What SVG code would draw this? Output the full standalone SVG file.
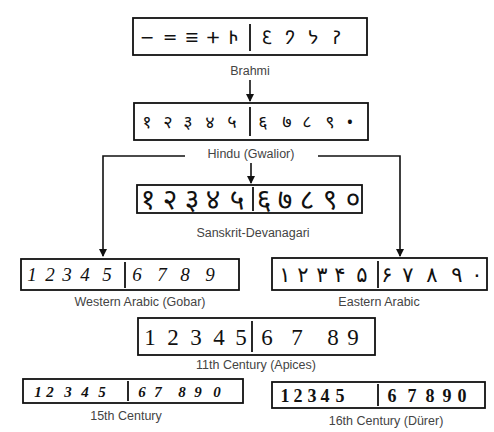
<svg xmlns="http://www.w3.org/2000/svg" width="494" height="432" viewBox="0 0 494 432">
<style>
.box{fill:#fff;stroke:#111;stroke-width:1.8}
.div{stroke:#111;stroke-width:1.8}
.lbl{font-family:"Liberation Sans",Arial,sans-serif;font-size:12.5px;fill:#444;text-anchor:middle}
.num{fill:#111;text-anchor:middle}
.brahmi{font-family:"Noto Sans Brahmi","Noto Sans",sans-serif;font-size:19px}
.deva{font-family:"Noto Sans Devanagari","Noto Sans",sans-serif}
.arab{font-family:"DejaVu Sans","Noto Sans",sans-serif;font-size:21px}
.lat{font-family:"Liberation Serif","Times New Roman",serif}
.conn{fill:none;stroke:#111;stroke-width:1.6}
</style>
<defs>
<marker id="ah" markerWidth="8" markerHeight="9" refX="7" refY="4.5" orient="auto" markerUnits="userSpaceOnUse">
<path d="M0,0.5 L8,4.5 L0,8.5 Z" fill="#111"/>
</marker>
</defs>
<rect width="494" height="432" fill="#fff"/>

<g id="connectors">
<path class="conn" d="M250,80 V101" marker-end="url(#ah)"/>
<path class="conn" d="M185,156 H103 V256" marker-end="url(#ah)"/>
<path class="conn" d="M318,156 H400 V256" marker-end="url(#ah)"/>
<path class="conn" d="M251,163 V183" marker-end="url(#ah)"/>
</g>

<g id="brahmi">
<rect class="box" x="133" y="18" width="234" height="37"/>
<line class="div" x1="250" y1="24" x2="250" y2="51"/>
<text class="num brahmi" y="44"><tspan x="147">𑁒</tspan><tspan x="170">𑁓</tspan><tspan x="192">𑁔</tspan><tspan x="213">𑁕</tspan><tspan x="233">𑁖</tspan><tspan x="267">𑁗</tspan><tspan x="290">𑁘</tspan><tspan x="313">𑁙</tspan><tspan x="337">𑁚</tspan></text>
<text class="lbl" x="250" y="75">Brahmi</text>
</g>

<g id="hindu">
<rect class="box" x="134" y="103" width="234" height="37"/>
<line class="div" x1="250" y1="107" x2="250" y2="136"/>
<text class="num deva" font-size="18" y="128"><tspan x="147">१</tspan><tspan x="168">२</tspan><tspan x="188">३</tspan><tspan x="210">४</tspan><tspan x="232">५</tspan><tspan x="263">६</tspan><tspan x="287">७</tspan><tspan x="307">८</tspan><tspan x="330">९</tspan><tspan x="350">•</tspan></text>
<text class="lbl" x="251" y="158">Hindu (Gwalior)</text>
</g>

<g id="sanskrit">
<rect class="box" x="137" y="185" width="225" height="28"/>
<line class="div" x1="253" y1="187" x2="253" y2="211"/>
<text class="num deva" font-size="28" y="209"><tspan x="148">१</tspan><tspan x="170">२</tspan><tspan x="192">३</tspan><tspan x="213">४</tspan><tspan x="237">५</tspan><tspan x="264">६</tspan><tspan x="285">७</tspan><tspan x="307">८</tspan><tspan x="330">९</tspan><tspan x="353">०</tspan></text>
<text class="lbl" x="253" y="237">Sanskrit-Devanagari</text>
</g>

<g id="western-arabic">
<rect class="box" x="21" y="259" width="218" height="31"/>
<line class="div" x1="125" y1="262" x2="125" y2="288"/>
<text class="num lat" font-size="19" font-style="italic" y="281"><tspan x="32">1</tspan><tspan x="50">2</tspan><tspan x="67">3</tspan><tspan x="85">4</tspan><tspan x="107">5</tspan><tspan x="137">6</tspan><tspan x="162">7</tspan><tspan x="185">8</tspan><tspan x="210">9</tspan></text>
<text class="lbl" x="140" y="306">Western Arabic (Gobar)</text>
</g>

<g id="eastern-arabic">
<rect class="box" x="272" y="258" width="215" height="32"/>
<line class="div" x1="378" y1="261" x2="378" y2="288"/>
<text class="num arab" y="282"><tspan x="285">۱</tspan><tspan x="303">۲</tspan><tspan x="322">۳</tspan><tspan x="340">۴</tspan><tspan x="362">۵</tspan><tspan x="387">۶</tspan><tspan x="408">۷</tspan><tspan x="432">۸</tspan><tspan x="457">۹</tspan><tspan x="477">۰</tspan></text>
<text class="lbl" x="379" y="306">Eastern Arabic</text>
</g>

<g id="apices">
<rect class="box" x="138" y="318" width="237" height="37"/>
<line class="div" x1="252" y1="321" x2="252" y2="352"/>
<text class="num lat" font-size="23" y="345"><tspan x="150">1</tspan><tspan x="173">2</tspan><tspan x="196">3</tspan><tspan x="219">4</tspan><tspan x="241">5</tspan><tspan x="267">6</tspan><tspan x="297">7</tspan><tspan x="333">8</tspan><tspan x="353">9</tspan></text>
<text class="lbl" x="256" y="369">11th Century (Apices)</text>
</g>

<g id="century-15">
<rect class="box" x="23" y="379" width="220" height="24"/>
<line class="div" x1="128" y1="381" x2="128" y2="401"/>
<text class="num lat" font-size="15" font-style="italic" font-weight="bold" y="397"><tspan x="38">1</tspan><tspan x="50">2</tspan><tspan x="68">3</tspan><tspan x="85">4</tspan><tspan x="102">5</tspan><tspan x="142">6</tspan><tspan x="158">7</tspan><tspan x="182">8</tspan><tspan x="198">9</tspan><tspan x="217">0</tspan></text>
<text class="lbl" x="126" y="420">15th Century</text>
</g>

<g id="century-16">
<rect class="box" x="272" y="382" width="213" height="26"/>
<line class="div" x1="378" y1="384" x2="378" y2="406"/>
<text class="num lat" font-size="18" font-weight="bold" y="402"><tspan x="285">1</tspan><tspan x="298">2</tspan><tspan x="312">3</tspan><tspan x="325">4</tspan><tspan x="340">5</tspan><tspan x="392">6</tspan><tspan x="412">7</tspan><tspan x="430">8</tspan><tspan x="447">9</tspan><tspan x="462">0</tspan></text>
<text class="lbl" x="386" y="425">16th Century (Dürer)</text>
</g>
</svg>
